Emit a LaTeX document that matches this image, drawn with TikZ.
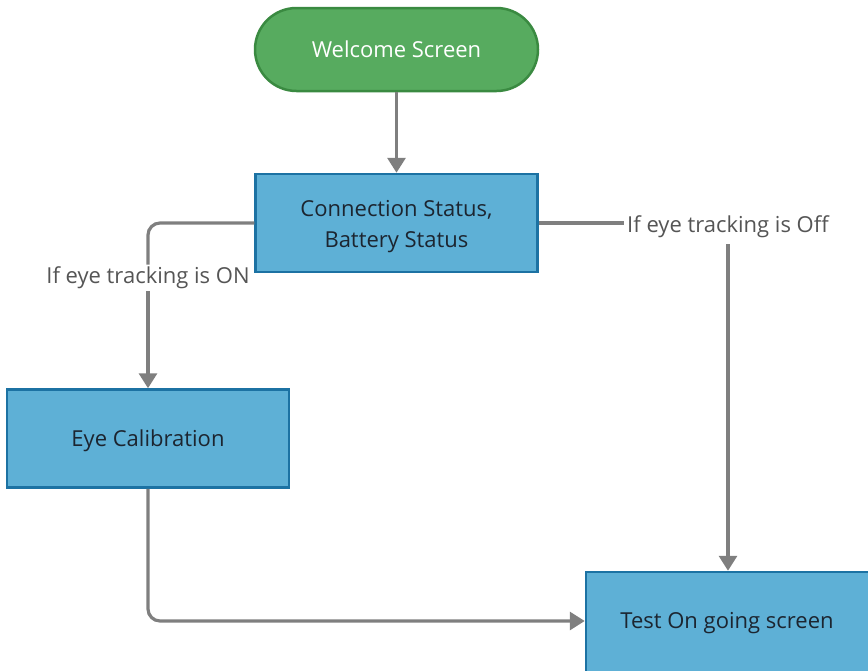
\documentclass[tikz,border=0pt]{standalone}
\usepackage{fontspec}
\setmainfont{Open Sans}
\usetikzlibrary{arrows.meta,shapes.misc}
\definecolor{gfill}{HTML}{57AB5F}
\definecolor{gdraw}{HTML}{3A8A41}
\definecolor{bfill}{HTML}{5EB0D6}
\definecolor{bdraw}{HTML}{1C72A3}
\definecolor{conn}{HTML}{7F7F7F}
\definecolor{lbl}{HTML}{555555}
\definecolor{btxt}{HTML}{1C2530}
\tikzset{
  pill/.style={rounded rectangle, fill=gfill, draw=gdraw, line width=2.5pt, minimum width=283pt, minimum height=83pt, text=white, font=\fontsize{22}{26}\selectfont, inner sep=0pt},
  box/.style={rectangle, fill=bfill, draw=bdraw, line width=2.5pt, minimum width=282pt, minimum height=98pt, text=btxt, align=center, font=\fontsize{22}{31}\selectfont, inner sep=0pt},
  boxtext/.style={text=btxt, align=center, font=\fontsize{22}{31}\selectfont, inner sep=0pt},
  lab/.style={text=lbl, font=\fontsize{22}{26}\selectfont, inner sep=2pt, fill=white},
  conn/.style={draw=conn, line width=3.2pt, rounded corners=12pt},
  arr/.style={conn, -{Triangle[width=18pt,length=15pt]}}
}
\begin{document}
\begin{tikzpicture}[x=1pt,y=-1pt]
\useasboundingbox (0,0) rectangle (868,670);
\node[pill] (ws) at (396.5,49.5) {Welcome Screen};
\node[box] (cs) at (396.5,223) {};
\node[boxtext] (cst) at (396.5,227) {Connection Status,\\Battery Status};
\node[box] (ec) at (148,438.5) {};
\node[boxtext] (ect) at (148,441) {Eye Calibration};
\node[box, minimum width=288pt, minimum height=104pt] (tg) at (730,624) {};
\node[boxtext] (tgt) at (727,623) {Test On going screen};
\coordinate (c1) at (148,223);
\coordinate (c2) at (148,621);
\node[lab] (lon) at (148,278) {If eye tracking is ON};
\node[lab, inner sep=3pt] (loff) at (728,227) {If eye tracking is Off};
\draw[arr] (ws.south) -- (cs.north);
\draw[conn] (cs.west) -- (c1) -- (lon.north);
\draw[arr] (lon.south) -- (ec.north);
\draw[conn] (cs.east) -- (cs.east -| loff.west);
\draw[arr] (loff.south) ++(0,3) -- (tg.north -| loff.south);
\draw[arr] (ec.south) -- (c2) -- (tg.west |- c2);
\end{tikzpicture}
\end{document}
